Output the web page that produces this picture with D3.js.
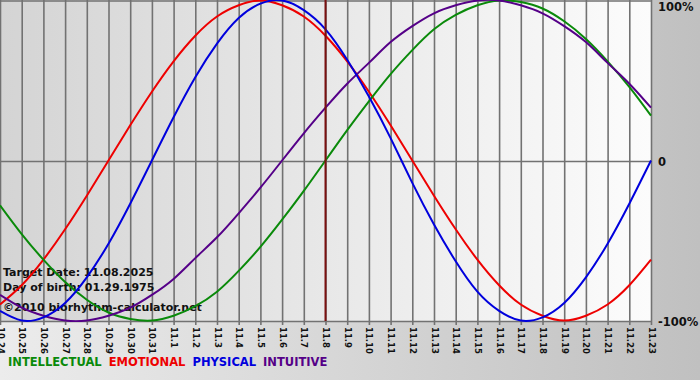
<!DOCTYPE html>
<html>
<head>
<meta charset="utf-8">
<script src="https://cdn.jsdelivr.net/npm/d3@7"></script>
<style>
  html, body { margin: 0; padding: 0; background: #d8d8d8; }
  svg { display: block; }
  text { font-family: "DejaVu Sans", Verdana, sans-serif; }
</style>
</head>
<body>
<svg id="chart" width="700" height="380"></svg>
<script>
// ---- data ----
const days = ["10.24","10.25","10.26","10.27","10.28","10.29","10.30","10.31",
  "11.1","11.2","11.3","11.4","11.5","11.6","11.7","11.8","11.9","11.10","11.11",
  "11.12","11.13","11.14","11.15","11.16","11.17","11.18","11.19","11.20","11.21","11.22","11.23"];

const intellectual = [-0.28,-0.46,-0.62,-0.76,-0.87,-0.95,-0.99,-1.00,-0.97,-0.91,-0.82,-0.69,-0.54,-0.37,-0.19,
  0.00,0.19,0.37,0.54,0.69,0.82,0.91,0.97,1.00,0.99,0.95,0.87,0.76,0.62,0.46,0.28];
const emotional = [-0.90,-0.78,-0.62,-0.43,-0.22,0.00,0.22,0.43,0.62,0.78,0.90,0.97,1.00,0.97,0.90,
  0.78,0.62,0.43,0.22,0.00,-0.22,-0.43,-0.62,-0.78,-0.90,-0.97,-1.00,-0.97,-0.90,-0.78,-0.62];
const physical = [-0.94,-1.00,-0.98,-0.89,-0.73,-0.52,-0.27,0.00,0.27,0.52,0.73,0.89,0.98,1.00,0.94,
  0.82,0.63,0.40,0.14,-0.14,-0.40,-0.63,-0.82,-0.94,-1.00,-0.98,-0.89,-0.73,-0.52,-0.27,0.00];
const intuitive = [-0.84,-0.92,-0.97,-1.00,-1.00,-0.97,-0.92,-0.84,-0.74,-0.61,-0.48,-0.33,-0.17,0.00,0.17,
  0.33,0.48,0.61,0.74,0.84,0.92,0.97,1.00,1.00,0.97,0.92,0.84,0.74,0.61,0.48,0.33];

const seriesNames = ["INTELLECTUAL","EMOTIONAL","PHYSICAL","INTUITIVE"];
const seriesColors = ["#0a8a0a","#ee0000","#0000dd","#550088"];
const seriesValues = [intellectual, emotional, physical, intuitive];
const drawOrder = [1, 0, 3, 2]; // paint order of the curves

const yTicks = [1, 0, -1];
const yTickLabels = ["100%", "0", "-100%"];
const targetDay = "11.8";
const infoLines = ["Target Date: 11.08.2025", "Day of birth: 01.29.1975", "\u00A92010 biorhythm-calculator.net"];

// ---- layout ----
const W = 700, H = 380;
const plot = { left: 0, right: 651, top: 0, bottom: 321 };

const svg = d3.select("#chart");
const defs = svg.append("defs");

const outer = defs.append("linearGradient").attr("id", "outerGrad")
  .attr("x1", "0%").attr("x2", "100%").attr("y1", "0%").attr("y2", "0%");
outer.append("stop").attr("offset", "0%").attr("stop-color", "#ececec");
outer.append("stop").attr("offset", "100%").attr("stop-color", "#c0c0c0");

const inner = defs.append("linearGradient").attr("id", "innerGrad")
  .attr("x1", "0%").attr("x2", "100%").attr("y1", "0%").attr("y2", "0%");
inner.append("stop").attr("offset", "0%").attr("stop-color", "#d4d4d4");
inner.append("stop").attr("offset", "100%").attr("stop-color", "#fcfcfc");

svg.append("rect").attr("width", W).attr("height", H).attr("fill", "url(#outerGrad)");

const x = d3.scalePoint().domain(days).range([plot.left, plot.right]);
const y = d3.scaleLinear().domain([-1, 1]).range([plot.bottom - 0.5, plot.top + 0.5]);

const clipId = "plotClip";
defs.append("clipPath").attr("id", clipId).append("rect")
  .attr("x", plot.left).attr("y", plot.top)
  .attr("width", plot.right - plot.left + 1).attr("height", plot.bottom - plot.top + 1);

svg.append("rect")
  .attr("x", plot.left).attr("y", plot.top)
  .attr("width", plot.right - plot.left).attr("height", plot.bottom - plot.top)
  .attr("fill", "url(#innerGrad)");

// vertical grid + tick marks via axis
const xAxis = d3.axisBottom(x).tickSize(plot.bottom - plot.top + 4).tickSizeOuter(0).tickPadding(0);
const gx = svg.append("g").attr("transform", `translate(0,${plot.top})`).call(xAxis);
gx.select(".domain").remove();
gx.selectAll(".tick line").attr("stroke", "#727272").attr("stroke-width", 1.6);
gx.selectAll(".tick text")
  .attr("transform", `translate(0,${plot.bottom - plot.top + 6}) rotate(90)`)
  .attr("x", 0).attr("y", 0).attr("dy", "0.35em")
  .attr("text-anchor", "start")
  .attr("fill", "#111")
  .style("font-size", "8.5px")
  .style("font-weight", "bold");

// horizontal lines: top, zero, bottom
svg.append("g").selectAll("line").data(yTicks).join("line")
  .attr("x1", plot.left).attr("x2", plot.right)
  .attr("y1", d => Math.round(y(d)) + (d === 1 ? 0 : 0.5))
  .attr("y2", d => Math.round(y(d)) + (d === 1 ? 0 : 0.5))
  .attr("stroke", "#727272").attr("stroke-width", 1.6);

// right labels
const yLabelBaselines = [11, 166, 326];
svg.append("g").selectAll("text").data(yTicks).join("text")
  .attr("x", 658)
  .attr("y", (d, i) => yLabelBaselines[i])
  .attr("fill", "#111")
  .style("font-size", "11.5px").style("font-weight", "bold")
  .text((d, i) => yTickLabels[i]);

// info text
svg.append("g").selectAll("text").data(infoLines).join("text")
  .attr("x", 3)
  .attr("y", (d, i) => [276, 291, 311][i])
  .attr("fill", "#111")
  .style("font-size", "11px").style("font-weight", "bold")
  .text(d => d);

// curves
const line = d3.line()
  .x((d, i) => x(days[i]))
  .y(d => y(d))
  .curve(d3.curveNatural);

const curves = svg.append("g").attr("clip-path", `url(#${clipId})`);
drawOrder.forEach(k => {
  curves.append("path")
    .attr("d", line(seriesValues[k]))
    .attr("fill", "none")
    .attr("stroke", seriesColors[k])
    .attr("stroke-width", 2);
});

// target date line
svg.append("line")
  .attr("x1", x(targetDay)).attr("x2", x(targetDay))
  .attr("y1", plot.top).attr("y2", plot.bottom)
  .attr("stroke", "#7a1010").attr("stroke-width", 2);

// legend
const legend = svg.append("g");
let lx = 8;
seriesNames.forEach((name, k) => {
  const t = legend.append("text")
    .attr("x", lx).attr("y", 366)
    .attr("fill", seriesColors[k])
    .style("font-size", "11.5px").style("font-weight", "bold")
    .text(name);
  lx += t.node().getComputedTextLength() + 7;
});
</script>
</body>
</html>
